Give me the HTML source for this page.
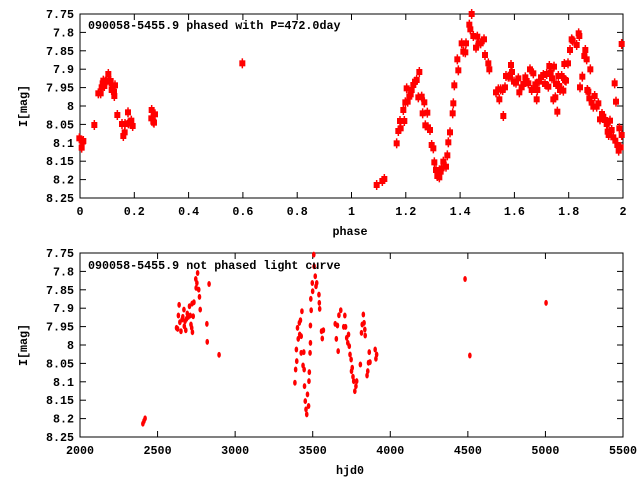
<!DOCTYPE html>
<html><head><meta charset="utf-8"><style>
html,body{margin:0;padding:0;background:#fff}
svg{display:block}
text{font-family:"Liberation Mono","DejaVu Sans Mono",monospace;font-weight:bold;font-size:11.7px;fill:#000}
</style></head><body>
<svg id="s" width="640" height="480" xmlns="http://www.w3.org/2000/svg">
<rect width="640" height="480" fill="#fff"/>
<g id="g"></g>
<text x="88" y="29">090058-5455.9 phased with P=472.0day</text>
<text x="88" y="269">090058-5455.9 not phased light curve</text>
<text x="350" y="235" text-anchor="middle">phase</text>
<text x="350" y="474" text-anchor="middle">hjd0</text>
<text transform="translate(27,106) rotate(-90)" text-anchor="middle">I[mag]</text>
<text transform="translate(27,345) rotate(-90)" text-anchor="middle">I[mag]</text>
</svg>
<script>
var NS="http://www.w3.org/2000/svg",g=document.getElementById("g");
function el(n,a,t){var e=document.createElementNS(NS,n);for(var k in a)e.setAttribute(k,a[k]);if(t!==undefined)e.textContent=t;g.appendChild(e);return e;}
var L=80,R=623;
function frame(T,B,xt,xl){
 el("rect",{x:L,y:T,width:R-L,height:B-T,fill:"none",stroke:"#000","stroke-width":1});
 var yl=["7.75","7.8","7.85","7.9","7.95","8","8.05","8.1","8.15","8.2","8.25"];
 for(var i=0;i<11;i++){var y=T+i*(B-T)/10;
  el("line",{x1:L,y1:y,x2:L+6,y2:y,stroke:"#000"});el("line",{x1:R,y1:y,x2:R-6,y2:y,stroke:"#000"});
  el("text",{x:74,y:y+4,"text-anchor":"end"},yl[i]);}
 var n=xl.length;
 for(var i=0;i<n;i++){var x=L+i*(R-L)/(n-1);
  el("line",{x1:x,y1:B,x2:x,y2:B-6,stroke:"#000"});el("line",{x1:x,y1:T,x2:x,y2:T+6,stroke:"#000"});
  el("text",{x:x,y:B+17,"text-anchor":"middle"},xl[i]);}
}
frame(14,198,0,["0","0.2","0.4","0.6","0.8","1","1.2","1.4","1.6","1.8","2"]);
frame(253,437,0,["2000","2500","3000","3500","4000","4500","5000","5500"]);
var p1=[[58,415],[65,443],[68,425],[70,423],[103,375],[115,280],[122,280],[125,262],[128,250],[130,242],[133,258],[136,245],[140,243],[145,222],[148,245],[152,243],[155,270],[158,258],[162,275],[165,256],[163,288],[172,345],[186,372],[190,408],[194,397],[195,372],[204,337],[205,370],[210,368],[214,362],[218,378],[275,330],[274,355],[280,365],[285,343],[282,368],[547,190]];
var p2=[[110,555],[127,543],[133,537],[170,430],[175,393],[182,385],[180,363],[190,330],[193,363],[196,307],[200,265],[203,305],[208,290],[212,283],[215,270],[220,255],[225,245],[230,240],[238,216],[235,292],[245,290],[248,340],[253,307],[256,376],[262,338],[264,382],[270,390],[275,435],[280,445],[283,487],[288,510],[292,528],[298,532],[302,515],[305,505],[310,485],[318,500],[322,466],[325,427],[330,397],[338,340],[340,310],[343,256],[352,178],[355,211],[365,130],[370,155],[378,130],[376,157],[388,74],[391,88],[395,42],[400,108],[408,143],[412,110],[416,130],[422,130],[432,118],[435,165],[445,190],[448,208],[468,277],[475,268],[478,298],[482,268],[488,270],[490,348],[495,262],[498,228],[505,230],[510,230],[513,195],[516,216],[522,245],[528,248],[535,235],[538,277],[545,262],[550,252],[556,232],[560,243],[565,250],[570,208],[575,270],[580,220],[586,253],[590,298],[592,270],[597,245],[603,232],[610,225],[615,252],[620,222],[625,260],[628,198],[632,218],[636,235],[640,298],[642,200],[646,292],[648,252],[652,335],[655,228],[658,258],[660,270],[665,228],[670,272],[673,192],[675,240],[678,242],[684,190],[690,150],[695,118],[698,122],[710,135],[716,100],[718,108],[720,262],[727,230],[733,168],[736,150],[740,178],[742,270],[745,275],[748,295],[751,208],[755,308],[760,320],[764,288],[770,320],[775,310],[780,358],[786,342],[790,350],[795,360],[800,372],[803,395],[806,405],[810,362],[815,390],[820,412],[824,250],[826,422],[828,305],[832,435],[836,452],[838,385],[842,442],[845,405],[845,132]];
function sq(x,y){el("rect",{x:x-3,y:y-3,width:6,height:6,fill:"#f00"});el("line",{x1:x,y1:y-5,x2:x,y2:y+5,stroke:"#f00","stroke-width":1.5});}
p1.forEach(function(p){sq(60+p[0]/3,p[1]/3);});
p2.forEach(function(p){sq(340+p[0]/3,p[1]/3);});
var p3=[[222,553],[225,545],[228,537],[313,265],[316,268],[318,228],[320,196],[322,248],[325,275],[328,240],[330,232],[333,210],[334,260],[336,245],[338,272],[340,238],[342,222],[345,232],[348,200],[350,228],[352,255],[354,265],[356,278],[355,192],[358,230],[360,188],[365,118],[366,145],[368,130],[370,100],[373,150],[375,172],[377,210],[395,253],[396,307],[401,133],[428,346],[633,430],[635,390],[637,330],[638,365],[640,265],[642,298],[645,250],[646,285],[648,242],[650,290],[650,340],[652,215],[655,378],[657,338],[658,390],[659,440],[661,485],[663,510],[665,525],[667,465],[670,500],[671,425],[672,398],[674,340],[675,310],[675,258],[676,178],[677,212],[680,130],[681,155],[684,45],[685,80],[688,110],[690,140],[692,130],[698,165],[699,190],[700,208],[705,275],[707,297],[710,272],[742,253],[745,298],[748,258],[750,335],[752,227],[757,212],[765,262],[768,228],[770,262],[773,295],[776,310],[778,285],[780,320],[782,345],[785,360],[786,395],[788,385],[790,412],[792,425],[795,455],[798,440],[800,425],[810,375],[813,280],[815,255],[818,225],[820,250],[822,270],[823,288],[828,408],[830,395],[832,370],[834,338],[836,368],[850,330],[852,358],[854,345],[1093,118],[1106,348],[1312,190]];
p3.forEach(function(p){var x=80+(p[0]-52)*543/1468,y=253+(p[1]-40)*184/553;
 el("ellipse",{cx:x,cy:y,rx:1.8,ry:3,fill:"#f00"});});
</script>
</body></html>
